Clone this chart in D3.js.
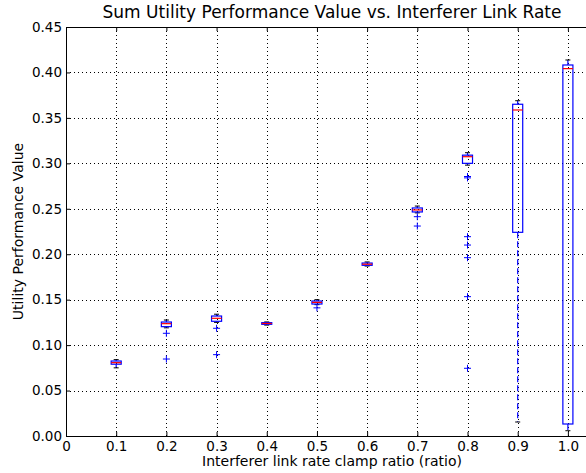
<!DOCTYPE html>
<html>
<head>
<meta charset="utf-8">
<script src="https://cdn.jsdelivr.net/npm/d3@7"></script>
<style>
  body { margin: 0; background: #fff; }
  svg text { font-family: "DejaVu Sans", sans-serif; fill: #000; }
</style>
</head>
<body>
<div id="graph"></div>
<script>
// box stats, one entry per clamp ratio
var positions = [0.1, 0.2, 0.3, 0.4, 0.5, 0.6, 0.7, 0.8, 0.9, 1.0];
var whiskerLow = [0.0750, 0.1190, 0.1250, 0.1220, 0.1445, 0.1870, 0.2455, 0.2980, 0.0154, 0.0058];
var boxLow     = [0.0790, 0.1203, 0.1262, 0.1229, 0.1452, 0.1878, 0.2465, 0.3000, 0.2241, 0.0132];
var medians    = [0.0807, 0.1236, 0.1295, 0.1238, 0.1470, 0.1890, 0.2487, 0.3073, 0.3587, 0.4042];
var boxHigh    = [0.0825, 0.1254, 0.1320, 0.1247, 0.1485, 0.1903, 0.2509, 0.3090, 0.3650, 0.4082];
var whiskerHigh= [0.0840, 0.1276, 0.1340, 0.1255, 0.1500, 0.1915, 0.2530, 0.3117, 0.3689, 0.4137];
var outliers = [
  [],
  [0.1130, 0.0847],
  [0.1185, 0.0895],
  [],
  [0.1410],
  [],
  [0.2413, 0.2310],
  [0.2855, 0.2840, 0.2193, 0.2101, 0.1962, 0.1533, 0.0745],
  [],
  []
];
var xTicks = [0, 0.1, 0.2, 0.3, 0.4, 0.5, 0.6, 0.7, 0.8, 0.9, 1.0];
var xTickLabels = ["0", "0.1", "0.2", "0.3", "0.4", "0.5", "0.6", "0.7", "0.8", "0.9", "1.0"];
var yTicks = [0, 0.05, 0.10, 0.15, 0.20, 0.25, 0.30, 0.35, 0.40, 0.45];

var W = 586, H = 473;
// the axes run past the right edge of the picture, so right margin is negative
var margin = {top: 27, right: -12, bottom: 37, left: 66};
var width = W - margin.left - margin.right,
    height = H - margin.top - margin.bottom;

var xScale = d3.scaleLinear().domain([0, 1.06]).range([0, width]);
var yScale = d3.scaleLinear().domain([0, 0.45]).range([height, 0]);

var root = d3.select("#graph").append("svg")
    .attr("width", W)
    .attr("height", H);

var svg = root.append("g")
    .attr("transform", "translate(" + margin.left + "," + margin.top + ")");

// grid
svg.selectAll(".vgrid").data(xTicks).enter().append("line")
    .attr("x1", function(d) { return Math.round(xScale(d)) + 0.5; })
    .attr("x2", function(d) { return Math.round(xScale(d)) + 0.5; })
    .attr("y1", 0).attr("y2", height)
    .attr("stroke", "#000").attr("stroke-width", 1)
    .attr("stroke-dasharray", "1,3");
svg.selectAll(".hgrid").data(yTicks).enter().append("line")
    .attr("y1", function(d) { return Math.round(yScale(d)) + 0.5; })
    .attr("y2", function(d) { return Math.round(yScale(d)) + 0.5; })
    .attr("x1", 0).attr("x2", width)
    .attr("stroke", "#000").attr("stroke-width", 1)
    .attr("stroke-dasharray", "1,3");

// axes, ticks pointing inward like old matplotlib
var xAxis = d3.axisBottom(xScale).tickValues(xTicks)
    .tickFormat(function(d, i) { return xTickLabels[i]; })
    .tickSizeInner(-4).tickSizeOuter(0).tickPadding(5);
var yAxis = d3.axisLeft(yScale).tickValues(yTicks)
    .tickFormat(d3.format(".2f"))
    .tickSizeInner(-4).tickSizeOuter(0).tickPadding(4);

var gx = svg.append("g").attr("transform", "translate(0," + height + ")").call(xAxis);
var gy = svg.append("g").call(yAxis);
[gx, gy].forEach(function(g) {
    g.select(".domain").remove();
    g.selectAll("text").style("font-size", "13.5px");
});

// top ticks
svg.append("g").call(d3.axisTop(xScale).tickValues(xTicks).tickSizeInner(-4).tickSizeOuter(0).tickFormat(""))
    .select(".domain").remove();

svg.append("rect")
    .attr("x", 0.5).attr("y", 0.5)
    .attr("width", width - 1).attr("height", height)
    .attr("fill", "none").attr("stroke", "#000").attr("stroke-width", 1);

// boxes
var boxW = xScale(0.02) - xScale(0);
var capW = boxW / 2;
var boxes = svg.selectAll(".box").data(positions).enter().append("g").attr("class", "box");

boxes.append("line")
    .attr("x1", function(d) { return xScale(d); })
    .attr("x2", function(d) { return xScale(d); })
    .attr("y1", function(d, i) { return yScale(boxHigh[i]); })
    .attr("y2", function(d, i) { return yScale(whiskerHigh[i]); })
    .attr("stroke", "#0000ff").attr("stroke-width", 1.2).attr("stroke-dasharray", "6,3");
boxes.append("line")
    .attr("x1", function(d) { return xScale(d); })
    .attr("x2", function(d) { return xScale(d); })
    .attr("y1", function(d, i) { return yScale(boxLow[i]); })
    .attr("y2", function(d, i) { return yScale(whiskerLow[i]); })
    .attr("stroke", "#0000ff").attr("stroke-width", 1.2).attr("stroke-dasharray", "6,3");

[whiskerHigh, whiskerLow].forEach(function(arr) {
    boxes.append("line")
        .attr("x1", function(d) { return xScale(d) - capW / 2; })
        .attr("x2", function(d) { return xScale(d) + capW / 2; })
        .attr("y1", function(d, i) { return yScale(arr[i]); })
        .attr("y2", function(d, i) { return yScale(arr[i]); })
        .attr("stroke", "#000");
});

boxes.append("rect")
    .attr("x", function(d) { return xScale(d) - boxW / 2; })
    .attr("y", function(d, i) { return yScale(boxHigh[i]); })
    .attr("width", boxW)
    .attr("height", function(d, i) { return yScale(boxLow[i]) - yScale(boxHigh[i]); })
    .attr("fill", "none").attr("stroke", "#0000ff").attr("stroke-width", 1.2);

boxes.append("line")
    .attr("x1", function(d) { return xScale(d) - boxW / 2; })
    .attr("x2", function(d) { return xScale(d) + boxW / 2; })
    .attr("y1", function(d, i) { return yScale(medians[i]); })
    .attr("y2", function(d, i) { return yScale(medians[i]); })
    .attr("stroke", "#ff0000").attr("stroke-width", 1.2);

// fliers
var fliers = [];
positions.forEach(function(p, i) {
    outliers[i].forEach(function(v) { fliers.push({x: p, v: v}); });
});
var fl = svg.selectAll(".flier").data(fliers).enter().append("g")
    .attr("transform", function(d) { return "translate(" + xScale(d.x) + "," + yScale(d.v) + ")"; });
fl.append("line").attr("x1", -3.5).attr("x2", 3.5).attr("stroke", "#0000ff");
fl.append("line").attr("y1", -3.5).attr("y2", 3.5).attr("stroke", "#0000ff");

// labels, centred on the (partly hidden) axes
root.append("text")
    .attr("x", margin.left + width / 2).attr("y", 18)
    .attr("text-anchor", "middle")
    .style("font-size", "17px")
    .text("Sum Utility Performance Value vs. Interferer Link Rate");

root.append("text")
    .attr("x", margin.left + width / 2).attr("y", 466)
    .attr("text-anchor", "middle")
    .style("font-size", "14px")
    .text("Interferer link rate clamp ratio (ratio)");

root.append("text")
    .attr("transform", "translate(23," + (margin.top + height / 2) + ") rotate(-90)")
    .attr("text-anchor", "middle")
    .style("font-size", "14px")
    .text("Utility Performance Value");
</script>
</body>
</html>
